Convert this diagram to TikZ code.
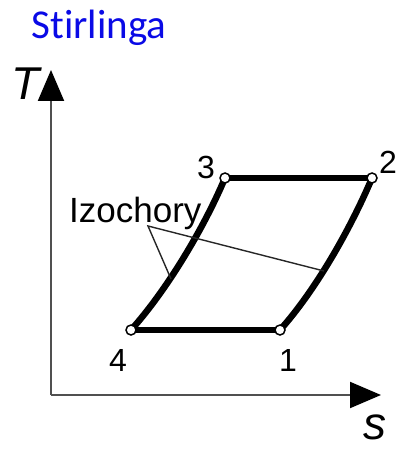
\documentclass[tikz,border=0pt]{standalone}
\usepackage{fontspec}
\setmainfont{Liberation Sans}
\newfontfamily\titlefont[Ligatures={NoCommon,NoRare}]{Carlito}
\usetikzlibrary{arrows.meta}
\definecolor{titleblue}{RGB}{10,10,230}
\definecolor{axisgray}{RGB}{80,80,80}
\begin{document}
\begin{tikzpicture}[x=1pt,y=-1pt,
  cycleline/.style={line width=6.5pt,black},
  axisline/.style={line width=2pt,axisgray,-{Triangle[length=31pt,width=26pt,color=black]}},
  leader/.style={line width=1.4pt,black!85},
  pt/.style={circle,draw=black,fill=white,line width=1.5pt,minimum size=10pt,inner sep=0pt},
  num/.style={font=\fontsize{32}{32}\selectfont,inner sep=0pt,anchor=base},
  axlabel/.style={font=\fontsize{46}{46}\selectfont\itshape,inner sep=0pt}]
\useasboundingbox (0,0) rectangle (397,449);
% title
\node[font=\titlefont\fontsize{41}{41}\selectfont,text=titleblue,anchor=base,inner sep=0pt] (title) at (99,39) {Stirlinga};
% axes
\coordinate (O) at (51,395);
\coordinate (Tend) at (51,70);
\coordinate (Send) at (381,395);
\draw[axisline] (O) -- (Tend);
\draw[axisline] (O) -- (Send);
\node[axlabel,anchor=base west] (Tlab) at (11,100) {T};
\node[axlabel,anchor=base,text depth=0pt] (slab) at (375,439) {s};
% state points
\coordinate (c1) at (280,330);
\coordinate (c2) at (372,178);
\coordinate (c3) at (225,178);
\coordinate (c4) at (131,330);
\draw[cycleline] (c4) -- (c1);
\draw[cycleline] (c3) -- (c2);
\draw[cycleline] (c4) .. controls (166,291) and (203,230) .. (c3);
\draw[cycleline] (c1) .. controls (315,291) and (350,230) .. (c2);
% leaders
\coordinate (lk) at (148,226);
\coordinate (la) at (171,279);
\coordinate (lb) at (324,271);
\draw[leader] (la) -- (lk) -- (lb);
\node[font=\fontsize{35}{35}\selectfont,anchor=base west,inner sep=0pt] (izo) at (69,222) {Izochory};
% markers
\node[pt] (p1) at (c1) {};
\node[pt] (p2) at (c2) {};
\node[pt] (p3) at (c3) {};
\node[pt] (p4) at (c4) {};
\node[num] (n3) at (206,178) {3};
\node[num] (n2) at (388,173) {2};
\node[num] (n4) at (118,371) {4};
\node[num] (n1) at (288,371) {1};
\end{tikzpicture}
\end{document}
